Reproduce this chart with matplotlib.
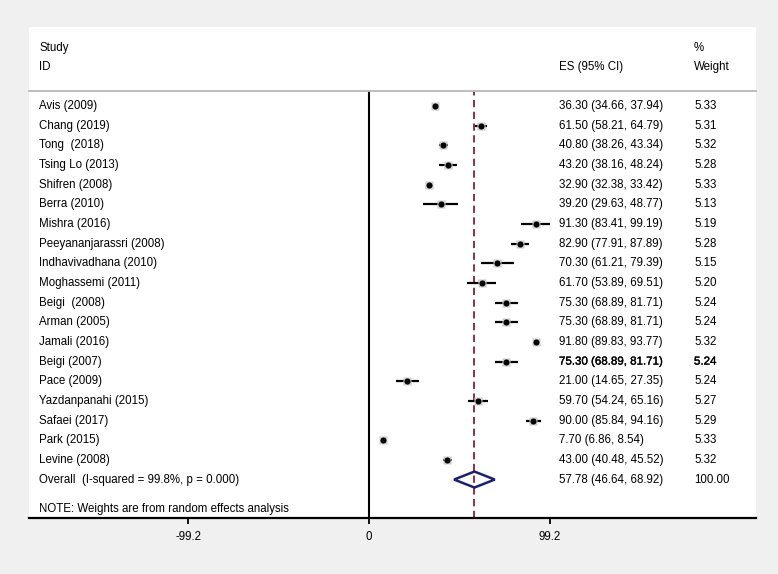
import matplotlib
matplotlib.use("Agg")
import matplotlib.pyplot as plt
import matplotlib.patheffects as pe
from matplotlib.patches import Rectangle, Polygon
from matplotlib.transforms import blended_transform_factory

plt.rcParams['font.family'] = ['Liberation Sans', 'DejaVu Sans']

# study data
studies = ["Avis (2009)", "Chang (2019)", "Tong  (2018)", "Tsing Lo (2013)", "Shifren (2008)",
           "Berra (2010)", "Mishra (2016)", "Peeyananjarassri (2008)", "Indhavivadhana (2010)",
           "Moghassemi (2011)", "Beigi  (2008)", "Arman (2005)", "Jamali (2016)", "Beigi (2007)",
           "Pace (2009)", "Yazdanpanahi (2015)", "Safaei (2017)", "Park (2015)", "Levine (2008)"]
es = [36.30, 61.50, 40.80, 43.20, 32.90, 39.20, 91.30, 82.90, 70.30, 61.70,
      75.30, 75.30, 91.80, 75.30, 21.00, 59.70, 90.00, 7.70, 43.00]
lo = [34.66, 58.21, 38.26, 38.16, 32.38, 29.63, 83.41, 77.91, 61.21, 53.89,
      68.89, 68.89, 89.83, 68.89, 14.65, 54.24, 85.84, 6.86, 40.48]
hi = [37.94, 64.79, 43.34, 48.24, 33.42, 48.77, 99.19, 87.89, 79.39, 69.51,
      81.71, 81.71, 93.77, 81.71, 27.35, 65.16, 94.16, 8.54, 45.52]
weights = [5.33, 5.31, 5.32, 5.28, 5.33, 5.13, 5.19, 5.28, 5.15, 5.20,
           5.24, 5.24, 5.32, 5.24, 5.24, 5.27, 5.29, 5.33, 5.32]

overall_label = "Overall  (I-squared = 99.8%, p = 0.000)"
overall_es = 57.78
overall_lo = 46.64
overall_hi = 68.92
overall_weight = "100.00"
note = "NOTE: Weights are from random effects analysis"
xticks = [-99.2, 0, 99.2]
heavy_row = 13  # Beigi (2007) numbers look overprinted in the original

W, H = 778, 574
def fx(px):
    return px / W
def fy(py):
    return 1 - py / H

fig = plt.figure(figsize=(W / 100, H / 100), dpi=100, facecolor='#f0f0f0')

# white panel behind everything
panel = Rectangle((fx(29), fy(518)), (756 - 29) / W, (518 - 27) / H,
                  transform=fig.transFigure, facecolor='white',
                  edgecolor='none', zorder=-10)
fig.add_artist(panel)

ax = fig.add_axes([fx(29), fy(518), (756 - 29) / W, (518 - 91) / H])
ax.set_zorder(1)
ax.set_facecolor('none')
sc = 181 / 99.2
row_h = 19.66
ax.set_xlim((29 - 369) / sc, (756 - 369) / sc)
ax.set_ylim((518 - 106) / row_h, (91 - 106) / row_h)

for s in ['left', 'right']:
    ax.spines[s].set_visible(False)
ax.spines['top'].set_color('#b8b8b8')
ax.spines['top'].set_linewidth(1.3)
ax.spines['bottom'].set_color('black')
ax.spines['bottom'].set_linewidth(1.6)
ax.set_yticks([])
ax.set_xticks(xticks)
ax.set_xticklabels(["-99.2", "0", "99.2"])
ax.tick_params(axis='x', direction='out', length=4.5, width=1.3, pad=5,
               labelsize=8.3, colors='black')

ax.axvline(0, color='black', lw=1.5, zorder=2)
ax.axvline(overall_es, color='#8c1c3c', lw=1.3, ls=(0, (4, 2.5)), zorder=2)

fs = 8.3
tr = blended_transform_factory(fig.transFigure, ax.transData)
n = len(studies)
for i in range(n):
    ms = 6.0 * (weights[i] / 5.33) ** 0.5
    ax.plot([lo[i], hi[i]], [i, i], color='black', lw=1.6, zorder=3, solid_capstyle='butt')
    ax.plot(es[i], i, marker='s', ms=ms, color='#cdcdcd', mec='none', zorder=3)
    ax.plot(es[i], i, marker='o', ms=4.4, color='black', mec='none', zorder=4)
    eff = [pe.withStroke(linewidth=0.25, foreground='black')] if i == heavy_row else None
    ax.text(fx(39), i, studies[i], transform=tr, fontsize=fs, va='center', ha='left')
    ax.text(fx(559), i, "%.2f (%.2f, %.2f)" % (es[i], lo[i], hi[i]), transform=tr,
            fontsize=fs, va='center', ha='left', path_effects=eff)
    ax.text(fx(694), i, "%.2f" % weights[i], transform=tr, fontsize=fs,
            va='center', ha='left', path_effects=eff)

# overall diamond
yo = n
dh = 8 / row_h
ax.add_patch(Polygon([(overall_lo, yo), (overall_es, yo - dh), (overall_hi, yo),
                      (overall_es, yo + dh)], closed=True, fill=False,
                     edgecolor='#17207a', lw=1.8, zorder=5))
ax.text(fx(39), yo, overall_label, transform=tr, fontsize=fs, va='center', ha='left')
ax.text(fx(559), yo, "%.2f (%.2f, %.2f)" % (overall_es, overall_lo, overall_hi),
        transform=tr, fontsize=fs, va='center', ha='left')
ax.text(fx(694), yo, overall_weight, transform=tr, fontsize=fs, va='center', ha='left')

ax.text(fx(39), (509 - 106) / row_h, note, transform=tr, fontsize=fs, va='center', ha='left')

# header
fig.text(fx(39), fy(48), "Study", fontsize=fs, va='center', ha='left')
fig.text(fx(39), fy(67), "ID", fontsize=fs, va='center', ha='left')
fig.text(fx(559), fy(67), "ES (95% CI)", fontsize=fs, va='center', ha='left')
fig.text(fx(694), fy(48), "%", fontsize=fs, va='center', ha='left')
fig.text(fx(694), fy(67), "Weight", fontsize=fs, va='center', ha='left')

fig.savefig("out.png", dpi=100, facecolor=fig.get_facecolor())
